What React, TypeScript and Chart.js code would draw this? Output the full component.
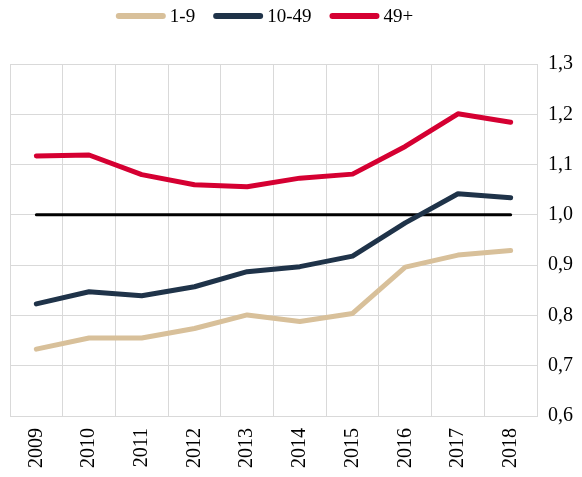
import React, { useEffect, useRef } from "react";
import { Chart, registerables } from "chart.js";

Chart.register(...registerables);

const years = ["2009", "2010", "2011", "2012", "2013", "2014", "2015", "2016", "2017", "2018"];
const small = [0.733, 0.755, 0.755, 0.774, 0.801, 0.788, 0.804, 0.896, 0.920, 0.929];
const medium = [0.823, 0.847, 0.839, 0.857, 0.887, 0.897, 0.918, 0.984, 1.042, 1.034];
const large = [1.117, 1.119, 1.080, 1.060, 1.056, 1.073, 1.081, 1.136, 1.201, 1.184];
const reference = [1.0, 1.0, 1.0, 1.0, 1.0, 1.0, 1.0, 1.0, 1.0, 1.0];
const yMin = 0.6;
const yMax = 1.3;
const yStep = 0.1;

const FONT = "'Liberation Serif', 'Times New Roman', serif";

const lineLegend = {
  id: "lineLegend",
  afterDraw(chart: any) {
    const ctx = chart.ctx as CanvasRenderingContext2D;
    const items = chart.data.datasets.filter((d: any) => d.label !== "ref");
    const boxW = 50;
    const boxH = 6;
    const gapText = 4;
    const gapItem = 18;
    ctx.save();
    ctx.font = `19px ${FONT}`;
    const widths = items.map((d: any) => ctx.measureText(d.label).width);
    let total = 0;
    widths.forEach((w: number, i: number) => {
      total += boxW + gapText + w + (i < widths.length - 1 ? gapItem : 0);
    });
    const center = (chart.chartArea.left + chart.chartArea.right) / 2 - 9;
    let x = center - total / 2;
    const y = 16;
    items.forEach((d: any, i: number) => {
      ctx.fillStyle = d.borderColor;
      ctx.beginPath();
      (ctx as any).roundRect(x, y - boxH / 2, boxW, boxH, boxH / 2);
      ctx.fill();
      x += boxW + gapText;
      ctx.fillStyle = "#000";
      ctx.textBaseline = "middle";
      ctx.textAlign = "left";
      ctx.fillText(d.label, x, y + 1);
      x += widths[i] + gapItem;
    });
    ctx.restore();
  },
};

export default function App() {
  const ref = useRef<HTMLCanvasElement | null>(null);

  useEffect(() => {
    if (!ref.current) return;
    const line = (label: string, data: number[], color: string, width = 5) => ({
      label,
      data,
      borderColor: color,
      backgroundColor: color,
      borderWidth: width,
      pointRadius: 0,
      pointHoverRadius: 0,
      tension: 0,
      fill: false,
      borderCapStyle: "round" as const,
      borderJoinStyle: "round" as const,
    });
    const chart = new Chart(ref.current, {
      type: "line",
      data: {
        labels: years,
        datasets: [
          line("1-9", small, "#D8C09A"),
          line("10-49", medium, "#1F3349"),
          line("49+", large, "#D50032"),
          line("ref", reference, "#000000", 3),
        ],
      },
      plugins: [lineLegend],
      options: {
        responsive: false,
        animation: false,
        layout: { padding: { left: 10, right: 0, top: 64, bottom: 0 } },
        plugins: {
          tooltip: { enabled: false },
          legend: { display: false },
        },
        scales: {
          x: {
            offset: true,
            grid: { color: "#d9d9d9", lineWidth: 1, drawTicks: false, offset: true },
            border: { color: "#d9d9d9", width: 1 },
            afterFit: (s: any) => {
              s.height = 61;
            },
            ticks: {
              color: "#000",
              font: { family: FONT, size: 20 },
              minRotation: 90,
              maxRotation: 90,
              padding: 12,
            },
          },
          y: {
            position: "right",
            min: yMin,
            max: yMax,
            grid: { color: "#d9d9d9", lineWidth: 1, drawTicks: false },
            border: { color: "#d9d9d9", width: 1 },
            afterFit: (s: any) => {
              s.width = 45;
            },
            ticks: {
              stepSize: yStep,
              color: "#000",
              font: { family: FONT, size: 20 },
              padding: 11,
              callback: (v) => Number(v).toFixed(1).replace(".", ","),
            },
          },
        },
      },
    });
    return () => chart.destroy();
  }, []);

  return (
    <div style={{ position: "fixed", left: 0, top: 0, width: 582, height: 477, background: "#fff" }}>
      <canvas ref={ref} width={582} height={477} style={{ display: "block" }} />
    </div>
  );
}
